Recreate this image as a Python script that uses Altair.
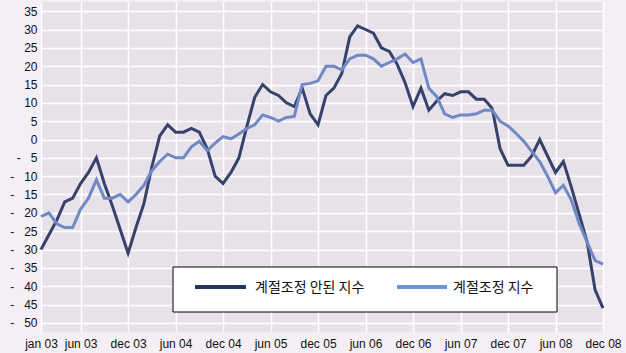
import altair as alt
import pandas as pd

# --- data -------------------------------------------------------------
series_names = ["계절조정 안된 지수", "계절조정 지수"]

unadjusted = [
    -30, -26, -22, -17, -16, -12, -9, -5, -12, -18, -24.5, -31,      # 2003
    -24, -17.5, -7.5, 1, 4, 2, 2, 3, 2, -2.5, -10, -12,              # 2004
    -9, -5, 3.5, 11.5, 15, 13, 12, 10, 9, 14, 7, 4,                  # 2005
    12, 14, 18, 28, 31, 30, 29, 25, 24, 20.5, 15.5, 9,               # 2006
    14, 8, 10.5, 12.5, 12, 13, 13, 11, 11, 8.5, -2.5, -7,            # 2007
    -7, -7, -4.5, 0, -4.5, -9, -6, -13, -20.5, -28, -41, -46,        # 2008
]
adjusted = [
    -21, -20, -23, -24, -24, -19, -16, -11, -16, -16, -15, -17,      # 2003
    -15, -12.5, -8.5, -6, -4, -5, -5, -2, -0.5, -3, -1, 0.8,         # 2004
    0.2, 1.5, 3, 4, 6.7, 6, 5, 6, 6.3, 15, 15.3, 16,                 # 2005
    20, 20, 19, 22, 23, 23, 22, 20, 21, 22, 23.3, 21,                # 2006
    22, 14, 11.7, 7, 6, 6.7, 6.7, 7, 8, 8, 5, 3.7,                   # 2007
    1.7, -0.5, -3.3, -6, -10, -14.5, -12.5, -16.5, -23, -28, -33, -34,  # 2008
]

tick_positions = [0, 5, 11, 17, 23, 29, 35, 41, 47, 53, 59, 65, 71]
tick_labels = ["jan 03", "jun 03", "dec 03", "jun 04", "dec 04", "jun 05",
               "dec 05", "jun 06", "dec 06", "jun 07", "dec 07", "jun 08", "dec 08"]
y_ticks = list(range(-50, 40, 5))

line_colors = ["#36426a", "#7088c4"]
legend_colors = ["#22365f", "#6d93dd"]

rows = []
for s, vals in zip(series_names, [unadjusted, adjusted]):
    for i, v in enumerate(vals):
        rows.append({"idx": i, "value": v, "series": s})
df = pd.DataFrame(rows)

label_expr = ("[" + ",".join(f"'{t}'" for t in tick_labels) + "][indexof(["
              + ",".join(str(p) for p in tick_positions) + "], datum.value)]")

y_label_expr = "datum.value < 0 ? '-\u00a0\u00a0\u00a0' + abs(datum.value) : '' + datum.value"

lines = alt.Chart(df).mark_line(strokeWidth=3).encode(
    x=alt.X("idx:Q",
            scale=alt.Scale(domain=[0, 71], nice=False, zero=False),
            axis=alt.Axis(values=tick_positions, labelExpr=label_expr, title=None,
                          grid=True, gridColor="white", gridWidth=1.5,
                          domain=False, ticks=False, labelPadding=6,
                          labelFont="Liberation Sans", labelFontSize=12,
                          labelColor="#111111", labelFlush=False)),
    y=alt.Y("value:Q",
            scale=alt.Scale(domain=[-52.5, 37.5], nice=False, zero=False),
            axis=alt.Axis(values=y_ticks, labelExpr=y_label_expr, title=None,
                          grid=True, gridColor="white", gridWidth=1.5,
                          domain=False, ticks=False, labelPadding=4,
                          labelFont="Liberation Sans", labelFontSize=12,
                          labelColor="#111111")),
    color=alt.Color("series:N",
                    scale=alt.Scale(domain=series_names, range=line_colors),
                    legend=None),
    order=alt.Order("series:N"),
)

# --- legend box (drawn as decoration, positioned in pixels) -----------
legend_df = pd.DataFrame({"series": series_names})
box = alt.Chart(legend_df.head(1)).mark_rect(
    fill="white", stroke="black", strokeWidth=1
).encode(x=alt.value(132), x2=alt.value(516), y=alt.value(265), y2=alt.value(310))

sym1 = alt.Chart(legend_df.head(1)).mark_rule(
    color=legend_colors[0], strokeWidth=4
).encode(x=alt.value(154), x2=alt.value(205), y=alt.value(285))
sym2 = alt.Chart(legend_df.head(1)).mark_rule(
    color=legend_colors[1], strokeWidth=4
).encode(x=alt.value(356), x2=alt.value(406), y=alt.value(285))

txt1 = alt.Chart(legend_df.iloc[[0]]).mark_text(
    align="left", baseline="middle", font="Noto Sans CJK KR", fontSize=14, color="#111111"
).encode(x=alt.value(214), y=alt.value(286), text="series:N")
txt2 = alt.Chart(legend_df.iloc[[1]]).mark_text(
    align="left", baseline="middle", font="Noto Sans CJK KR", fontSize=14, color="#111111"
).encode(x=alt.value(412), y=alt.value(286), text="series:N")

chart = alt.layer(lines, box, sym1, sym2, txt1, txt2).properties(
    width=562, height=330,
    padding={"left": 41, "top": 2, "right": 23, "bottom": 21},
    autosize=alt.AutoSizeParams(type="none"),
    background="#f3eff5",
).configure_view(
    fill="#e7e2ea", stroke=None
)

chart.save("out.html", embed_options={"renderer": "svg", "actions": False})
